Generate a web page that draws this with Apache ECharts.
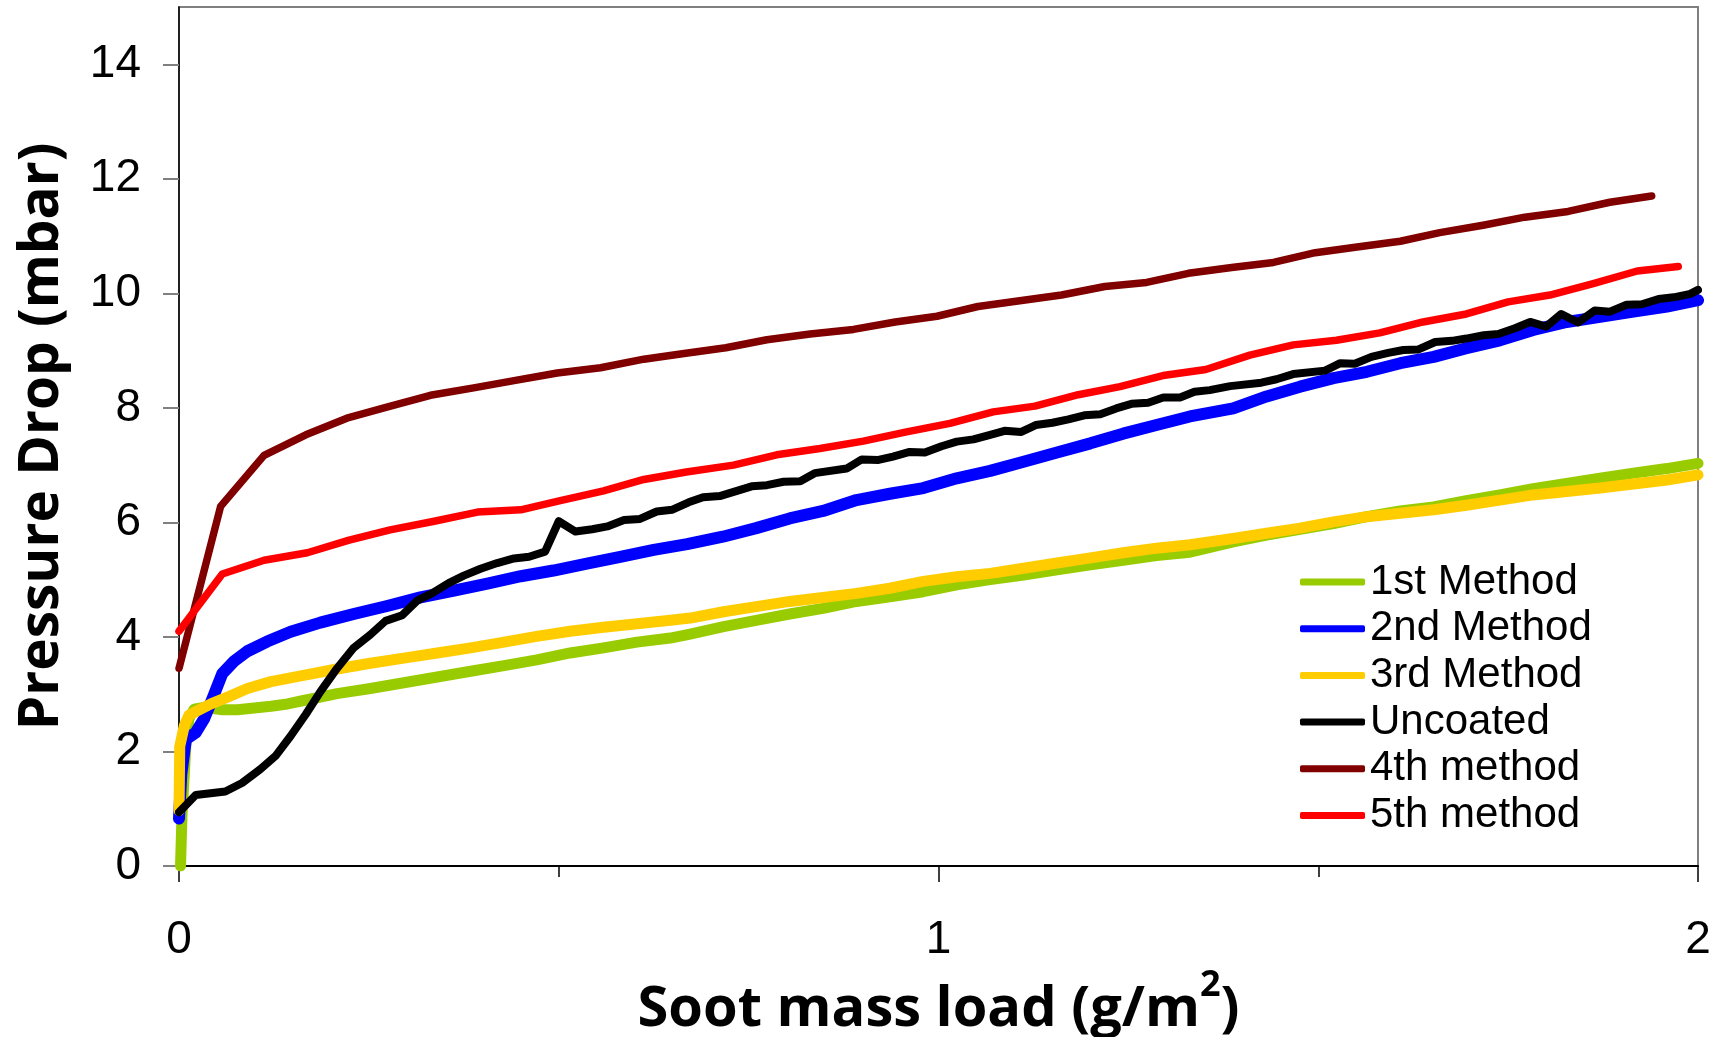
<!DOCTYPE html>
<html>
<head>
<meta charset="utf-8">
<script src="https://cdn.jsdelivr.net/npm/echarts@6/dist/echarts.min.js"></script>
<style>html,body{margin:0;padding:0;background:#fff}#c{width:1713px;height:1037px}</style>
</head>
<body>
<div id="c"></div>
<script>
const seriesNames = ['1st Method', '2nd Method', '3rd Method', 'Uncoated', '4th method', '5th method'];
const seriesColors = ['#99CC00', '#0000FF', '#FFCC00', '#000000', '#800000', '#FF0000'];

const m1X = [0.002,0.004,0.009,0.013,0.02,0.033,0.055,0.077,0.099,0.121,0.143,0.164,0.186,0.208,0.252,0.296,0.34,0.384,0.428,0.471,0.515,0.559,0.603,0.647,0.673,0.717,0.76,0.804,0.848,0.892,0.936,0.98,1.024,1.068,1.112,1.156,1.2,1.243,1.287,1.331,1.388,1.432,1.476,1.52,1.564,1.608,1.652,1.695,1.739,1.783,1.827,1.871,1.915,1.959,2.0];
const m1Y = [0,0.91,2.09,2.57,2.74,2.77,2.73,2.73,2.76,2.79,2.83,2.89,2.95,3.01,3.10,3.20,3.30,3.40,3.50,3.60,3.72,3.81,3.91,3.98,4.05,4.18,4.29,4.40,4.50,4.62,4.70,4.79,4.91,5.00,5.08,5.17,5.26,5.34,5.42,5.48,5.66,5.78,5.88,5.98,6.10,6.20,6.27,6.38,6.48,6.59,6.68,6.77,6.86,6.94,7.03];

const m2X = [0,0.003,0.009,0.022,0.033,0.044,0.057,0.072,0.09,0.116,0.147,0.186,0.23,0.274,0.318,0.362,0.406,0.45,0.493,0.537,0.581,0.625,0.669,0.716,0.76,0.804,0.848,0.892,0.936,0.98,1.024,1.068,1.112,1.156,1.2,1.243,1.287,1.331,1.388,1.432,1.476,1.52,1.564,1.608,1.652,1.695,1.739,1.783,1.827,1.871,1.915,1.959,2.0];
const m2Y = [0.83,1.6,2.21,2.33,2.57,2.92,3.36,3.57,3.75,3.92,4.09,4.25,4.40,4.54,4.69,4.81,4.93,5.06,5.16,5.28,5.40,5.52,5.62,5.75,5.90,6.07,6.20,6.39,6.50,6.60,6.77,6.90,7.06,7.22,7.38,7.55,7.70,7.85,7.99,8.20,8.37,8.52,8.63,8.78,8.89,9.04,9.18,9.36,9.50,9.59,9.68,9.77,9.88];

const m3X = [0,0.001,0.007,0.013,0.024,0.042,0.064,0.09,0.121,0.164,0.208,0.252,0.296,0.34,0.384,0.428,0.471,0.515,0.559,0.603,0.647,0.673,0.717,0.76,0.804,0.848,0.892,0.936,0.98,1.024,1.068,1.112,1.156,1.2,1.243,1.287,1.331,1.388,1.432,1.476,1.52,1.564,1.608,1.652,1.695,1.739,1.783,1.827,1.871,1.915,1.959,2.0];
const m3Y = [0.97,2.09,2.45,2.63,2.71,2.83,2.95,3.10,3.22,3.33,3.44,3.54,3.63,3.72,3.81,3.91,4.01,4.10,4.17,4.23,4.29,4.33,4.44,4.53,4.62,4.69,4.76,4.85,4.97,5.05,5.11,5.20,5.29,5.38,5.47,5.55,5.61,5.72,5.81,5.90,6.01,6.10,6.16,6.22,6.30,6.39,6.48,6.54,6.60,6.67,6.74,6.83];

const uncX = [0,0.022,0.061,0.083,0.107,0.127,0.147,0.167,0.186,0.208,0.23,0.252,0.272,0.294,0.314,0.333,0.355,0.375,0.397,0.419,0.441,0.461,0.482,0.5,0.522,0.544,0.564,0.586,0.607,0.629,0.649,0.671,0.69,0.712,0.754,0.774,0.796,0.818,0.837,0.879,0.899,0.921,0.94,0.962,0.982,1.004,1.024,1.046,1.068,1.087,1.109,1.128,1.15,1.171,1.192,1.213,1.234,1.254,1.276,1.296,1.318,1.337,1.357,1.384,1.425,1.445,1.467,1.509,1.529,1.548,1.57,1.592,1.612,1.632,1.654,1.676,1.695,1.718,1.737,1.759,1.779,1.8,1.82,1.842,1.864,1.884,1.906,1.926,1.948,1.968,1.99,2.0];
const uncY = [0.94,1.24,1.30,1.45,1.69,1.92,2.27,2.65,3.04,3.45,3.81,4.04,4.28,4.38,4.64,4.76,4.94,5.07,5.19,5.29,5.37,5.40,5.49,6.02,5.84,5.88,5.93,6.04,6.06,6.19,6.22,6.35,6.44,6.46,6.63,6.65,6.71,6.72,6.86,6.94,7.10,7.09,7.15,7.23,7.22,7.33,7.41,7.45,7.53,7.60,7.58,7.70,7.74,7.80,7.87,7.89,7.99,8.07,8.09,8.18,8.18,8.28,8.31,8.38,8.44,8.50,8.59,8.65,8.78,8.77,8.89,8.96,9.01,9.02,9.15,9.17,9.21,9.27,9.29,9.39,9.50,9.42,9.64,9.49,9.70,9.68,9.80,9.81,9.90,9.93,9.99,10.06];

const m4X = [0,0.0548,0.112,0.167,0.221,0.276,0.331,0.388,0.443,0.498,0.555,0.612,0.665,0.72,0.774,0.831,0.888,0.943,0.998,1.052,1.107,1.162,1.219,1.274,1.329,1.386,1.441,1.496,1.551,1.608,1.66,1.717,1.772,1.829,1.884,1.939];
const m4Y = [3.45,6.28,7.17,7.53,7.82,8.02,8.22,8.35,8.48,8.61,8.70,8.85,8.95,9.05,9.19,9.29,9.37,9.50,9.60,9.77,9.87,9.97,10.12,10.19,10.35,10.45,10.54,10.71,10.81,10.91,11.06,11.19,11.33,11.43,11.59,11.70];

const m5X = [0,0.057,0.112,0.169,0.224,0.278,0.336,0.393,0.45,0.502,0.559,0.612,0.668,0.73,0.787,0.844,0.901,0.958,1.015,1.072,1.127,1.184,1.239,1.298,1.352,1.41,1.467,1.524,1.581,1.638,1.695,1.75,1.805,1.862,1.92,1.974];
const m5Y = [4.10,5.10,5.34,5.47,5.69,5.87,6.02,6.18,6.22,6.38,6.55,6.75,6.88,7.00,7.18,7.29,7.42,7.58,7.73,7.93,8.03,8.23,8.37,8.57,8.67,8.92,9.10,9.18,9.31,9.50,9.64,9.85,9.97,10.17,10.39,10.47];

const yTickValues = [0, 2, 4, 6, 8, 10, 12, 14];
const xTickValues = [0, 1, 2];

const allX = [m1X, m2X, m3X, uncX, m4X, m5X];
const allY = [m1Y, m2Y, m3Y, uncY, m4Y, m5Y];
const widths = [11, 12, 11, 8, 7.5, 7.5];

function zip(xs, ys) { return xs.map((x, i) => [x, ys[i]]); }

const chart = echarts.init(document.getElementById('c'), null, { renderer: 'canvas' });
const labelFont = 'Liberation Sans';
const titleFont = 'Open Sans';

chart.setOption({
  animation: false,
  backgroundColor: '#ffffff',
  color: seriesColors,
  grid: {
    left: 179, right: 15, top: 7, bottom: 171,
    show: true, borderColor: '#808080', borderWidth: 2,
    outerBoundsMode: 'none', containLabel: false
  },
  legend: {
    orient: 'vertical', left: 1295, top: 556,
    itemWidth: 65, itemHeight: 7, itemGap: 4.7,
    icon: 'roundRect',
    data: seriesNames,
    textStyle: { fontFamily: labelFont, fontSize: 42, color: '#000', lineHeight: 42 }
  },
  xAxis: {
    type: 'value', min: 0, max: 2, interval: 1,
    axisLine: { show: true, lineStyle: { color: '#000', width: 2 } },
    axisTick: { show: true, length: 16, lineStyle: { color: '#000', width: 1.5 }, customValues: xTickValues },
    minorTick: { show: true, splitNumber: 2, length: 11, lineStyle: { color: '#000', width: 1.5 } },
    splitLine: { show: false },
    minorSplitLine: { show: false },
    axisLabel: { customValues: xTickValues, margin: 51, fontFamily: labelFont, fontSize: 46, color: '#000' },
    name: '{a|Soot mass load (g/m}{b|2}{a|)}',
    nameLocation: 'middle', nameGap: 81,
    nameTextStyle: {
      rich: {
        a: { fontFamily: titleFont, fontWeight: 'bold', fontSize: 56, color: '#000', lineHeight: 70, verticalAlign: 'bottom' },
        b: { fontFamily: titleFont, fontWeight: 'bold', fontSize: 36, color: '#000', lineHeight: 36, verticalAlign: 'top' }
      }
    }
  },
  yAxis: {
    type: 'value', min: 0, max: 15, interval: 2,
    axisLine: { show: true, lineStyle: { color: '#000', width: 1.5 } },
    axisTick: { show: true, length: 16, lineStyle: { color: '#808080', width: 2 }, customValues: yTickValues },
    splitLine: { show: false },
    axisLabel: { customValues: yTickValues, margin: 38, fontFamily: labelFont, fontSize: 46, color: '#000' },
    name: 'Pressure Drop (mbar)',
    nameLocation: 'middle', nameGap: 109,
    nameTextStyle: { fontFamily: titleFont, fontWeight: 'bold', fontSize: 55, color: '#000' }
  },
  series: seriesNames.map((name, i) => ({
    name: name,
    type: 'line',
    showSymbol: false,
    symbol: 'none',
    data: zip(allX[i], allY[i]),
    lineStyle: { width: widths[i], color: seriesColors[i], cap: 'round', join: 'round' },
    itemStyle: { color: seriesColors[i] },
    emphasis: { disabled: true }
  }))
});
</script>
</body>
</html>
